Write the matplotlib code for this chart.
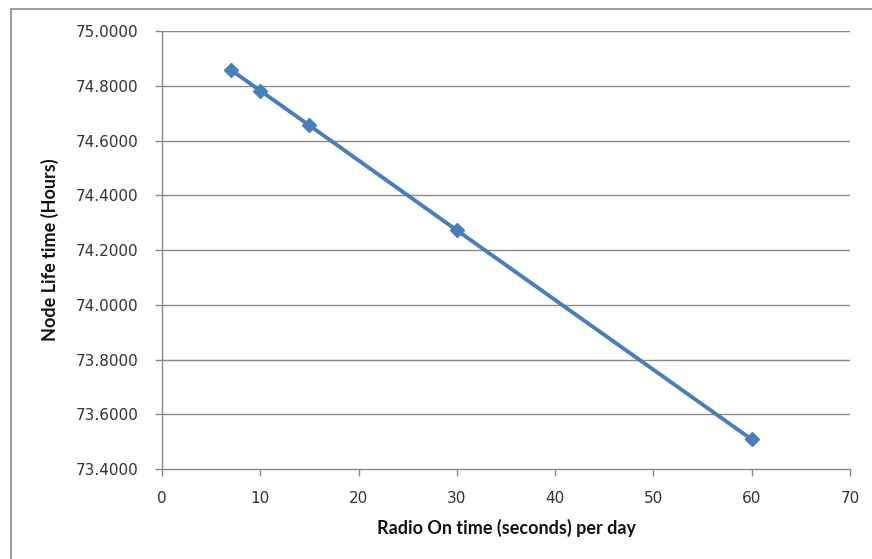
import numpy as np
import matplotlib.pyplot as plt
from matplotlib.patches import Rectangle

# radio on time (s/day) vs node life time (hours)
radio_on = [7, 10, 15, 30, 60]
life_hours = [74.858, 74.782, 74.655, 74.272, 73.508]

x_ticks = [0, 10, 20, 30, 40, 50, 60, 70]
y_ticks = [73.4, 73.6, 73.8, 74.0, 74.2, 74.4, 74.6, 74.8, 75.0]

W, H = 872, 559
fig = plt.figure(figsize=(W/100, H/100), dpi=100)
fig.patch.set_facecolor('white')

# outer chart border (runs off the right and bottom edges)
fig.add_artist(Rectangle((11/W, -0.1), 1.2, 1 - 9/H + 0.1, transform=fig.transFigure,
                         fill=False, edgecolor='#8c8c8c', lw=1.2))

ax = fig.add_axes([162/W, (H-469)/H, (850-162)/W, (469-31)/H])
grid_col = '#8a8a8a'

ax.plot(radio_on, life_hours, color='#4a7ebb', lw=2.8, marker='D', ms=7,
        markeredgecolor='#4a7ebb', markerfacecolor='#4a7ebb', zorder=3, clip_on=False)

ax.set_xlim(0, 70)
ax.set_ylim(73.4, 75.0)
ax.set_xticks(x_ticks)
ax.set_yticks(y_ticks)
ax.set_xticklabels([str(v) for v in x_ticks])
ax.set_yticklabels(['%.4f' % v for v in y_ticks])

for y in y_ticks[1:]:
    ax.axhline(y, color=grid_col, lw=1.0, zorder=1)

for s in ['top', 'right']:
    ax.spines[s].set_visible(False)
for s in ['left', 'bottom']:
    ax.spines[s].set_color(grid_col)
    ax.spines[s].set_linewidth(1.0)

ax.tick_params(axis='both', direction='out', color=grid_col, length=5, width=1,
               labelsize=11, labelcolor='#333333')
ax.tick_params(axis='x', pad=11)
ax.tick_params(axis='y', pad=12)
for lab in ax.get_xticklabels() + ax.get_yticklabels():
    lab.set_family('DejaVu Sans')

ax.set_xlabel('Radio On time (seconds) per day', fontsize=13, fontweight='bold',
              family='Lato', labelpad=9, color='#111111')
ax.set_ylabel('Node Life time (Hours)', fontsize=13, fontweight='bold',
              family='Lato', labelpad=12, color='#111111')

fig.savefig('out.png', dpi=100)
